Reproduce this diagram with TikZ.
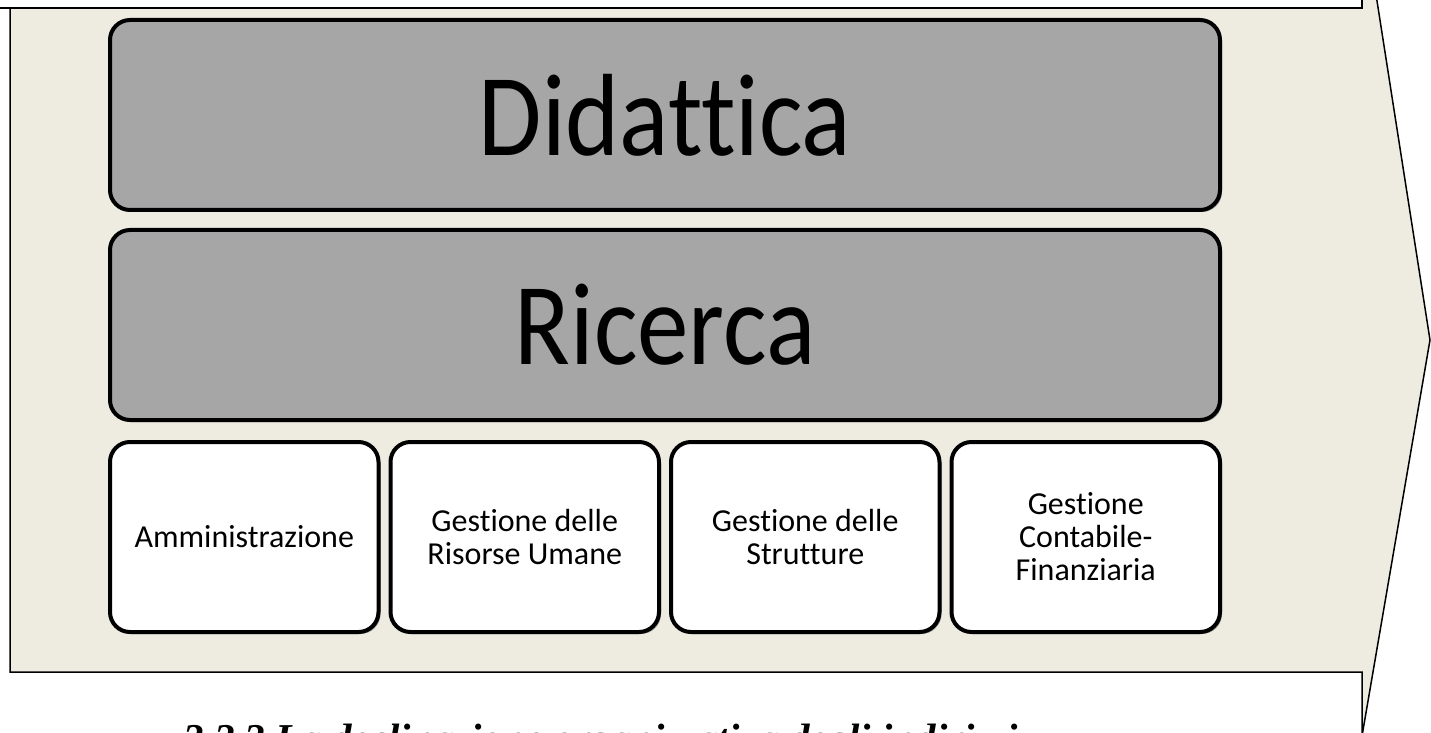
\documentclass[tikz,border=0pt]{standalone}
\usepackage{fontspec}
\setmainfont{Carlito}[Ligatures=NoCommon]
\newfontfamily\boxfont{Carlito}[Ligatures=NoCommon, FakeStretch=0.88]
\newfontfamily\headfont{Liberation Serif}
\usetikzlibrary{positioning,shadows}

\definecolor{arrowbeige}{HTML}{EEECE1}
\definecolor{boxgray}{HTML}{A6A6A6}

\tikzset{
	bigbox/.style={draw=black, line width=2pt, rounded corners=10pt, fill=boxgray,
		minimum width=555pt, minimum height=95pt, inner sep=0pt,
		font=\boxfont\fontsize{58.5}{62}\selectfont,
		drop shadow={shadow xshift=1pt, shadow yshift=-1pt, opacity=0.75}},
	smallbox/.style={draw=black, line width=2pt, rounded corners=10pt, fill=white,
		minimum width=134.25pt, minimum height=95pt, inner sep=0pt, align=center,
		font=\fontsize{16}{16.5}\selectfont,
		drop shadow={shadow xshift=1pt, shadow yshift=-1pt, opacity=0.75}}
}

\begin{document}
\begin{tikzpicture}[x=0.5pt, y=-0.5pt]
		\useasboundingbox (0,0) rectangle (1431,733);
		\clip (0,0) rectangle (1431,733);
		
		% DRAW THE ARROW
		\filldraw[fill=arrowbeige, draw=black, line width=0.75pt] (10,-120) -- (1362,-120) -- (1362,-95) -- (1430,340) -- (1362,736) -- (1362,672) -- (10,672) -- cycle;
		% text frame on top
		\filldraw[fill=white, draw=black, line width=0.75pt] (-5,-60) rectangle (1362,8);
		
		% THE BOXES
		\node[bigbox] (didattica) at (665,115) {Didattica};
		\node[bigbox, below=8pt of didattica] (ricerca) {Ricerca};
		\node[smallbox, below right=9pt and 0pt of ricerca.south west] (amministrazione) {Amministrazione};
		\node[smallbox, right=4pt of amministrazione] (risorse) {Gestione delle\\Risorse Umane};
		\node[smallbox, right=4pt of risorse] (strutture) {Gestione delle\\Strutture};
		\node[smallbox, right=4pt of strutture] (contabile) {Gestione\\Contabile-\\Finanziaria};
		
		% heading below, cut by the page
		\node[anchor=base west, inner sep=0pt, font=\headfont\bfseries\itshape\fontsize{20.5}{24}\selectfont] (titolo) at (183,752) {3.2.2 La declinazione organizzativa degli indirizzi};
	\end{tikzpicture}
\end{document}
